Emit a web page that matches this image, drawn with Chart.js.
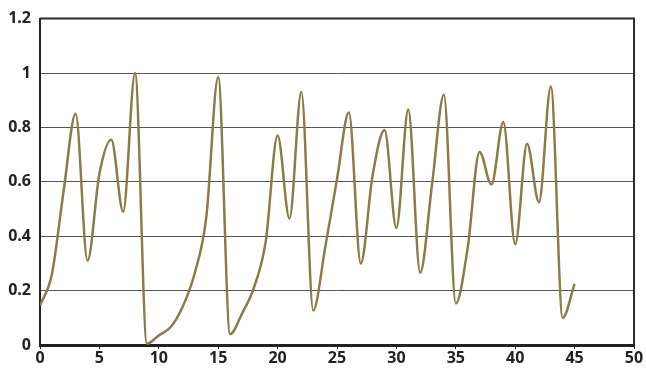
<!DOCTYPE html>
<html>
<head>
<meta charset="utf-8">
<script src="https://cdn.jsdelivr.net/npm/chart.js@4"></script>
<style>
  html, body { margin: 0; padding: 0; background: #fff; }
  #wrap { width: 646px; height: 373px; }
</style>
</head>
<body>
<div id="wrap"><canvas id="myChart" width="646" height="373"></canvas></div>
<script>
// values, one per integer x
const xValues = [];
for (let i = 0; i <= 45; i++) xValues.push(i);

const yValues = [
    0.145, 0.26, 0.57, 0.85, 0.31, 0.63, 0.755, 0.49, 1.0, 0.005,
    0.035, 0.066, 0.14, 0.26, 0.47, 0.985, 0.04, 0.115, 0.21, 0.38,
    0.77, 0.465, 0.93, 0.127, 0.357, 0.61, 0.855, 0.30, 0.625, 0.79,
    0.43, 0.866, 0.266, 0.59, 0.92, 0.153, 0.357, 0.71, 0.59, 0.82,
    0.37, 0.74, 0.525, 0.95, 0.10, 0.225
];

const xMin = 0, xMax = 50, xStep = 5;
const yMin = 0, yMax = 1.2, yStep = 0.2;

const lineColor = '#8c7b47';
const tickFont = { family: '"Open Sans"', size: 16, weight: 'bold' };

const ctx = document.getElementById('myChart').getContext('2d');

// frame around the plot area (top and right edges)
const framePlugin = {
    id: 'frame',
    afterDraw: function (chart) {
        const a = chart.chartArea;
        const c = chart.ctx;
        c.save();
        c.strokeStyle = '#2b2b2b';
        c.lineWidth = 2;
        c.beginPath();
        c.moveTo(a.left, a.top);
        c.lineTo(a.right, a.top);
        c.lineTo(a.right, a.bottom);
        c.stroke();
        c.restore();
    }
};

new Chart(ctx, {
    type: 'line',
    data: {
        datasets: [{
            data: xValues.map(function (x, i) { return { x: x, y: yValues[i] }; }),
            borderColor: lineColor,
            borderWidth: 2.5,
            pointRadius: 0,
            fill: false,
            cubicInterpolationMode: 'monotone'
        }]
    },
    options: {
        responsive: false,
        animation: false,
        layout: { padding: { top: 15, right: 12, left: 0, bottom: 0 } },
        plugins: {
            legend: { display: false },
            tooltip: { enabled: false }
        },
        scales: {
            x: {
                type: 'linear',
                min: xMin,
                max: xMax,
                ticks: {
                    stepSize: xStep,
                    color: '#222',
                    font: tickFont,
                    padding: 0,
                    maxRotation: 0
                },
                grid: { display: true, drawOnChartArea: false, color: '#222', tickLength: 4 },
                border: { display: true, color: '#222', width: 3 },
                afterFit: function (scale) { scale.height = 28; }
            },
            y: {
                min: yMin,
                max: yMax,
                ticks: {
                    stepSize: yStep,
                    color: '#222',
                    font: tickFont,
                    padding: 9,
                    callback: function (v) { return String(Math.round(v * 10) / 10); }
                },
                grid: { color: '#555', lineWidth: 1, drawTicks: false },
                border: { display: true, color: '#222', width: 2 },
                afterFit: function (scale) { scale.width = 40; }
            }
        }
    },
    plugins: [framePlugin]
});
</script>
</body>
</html>
